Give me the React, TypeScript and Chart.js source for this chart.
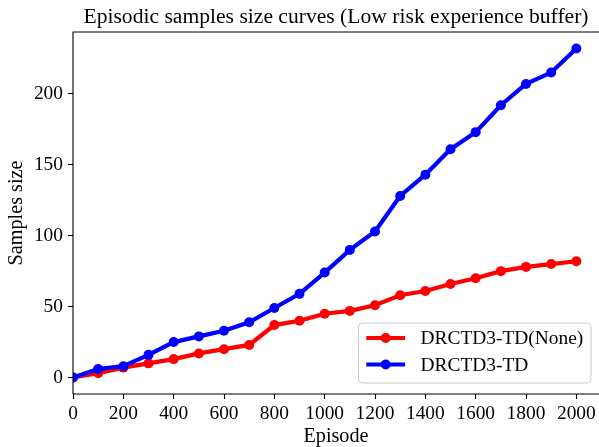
import React, { useEffect, useRef } from "react";
import { Chart, registerables } from "chart.js";

Chart.register(...registerables);

const episodes = [0, 100, 200, 300, 400, 500, 600, 700, 800, 900, 1000, 1100, 1200, 1300, 1400, 1500, 1600, 1700, 1800, 1900, 2000];
const noneSamples = [0, 3, 7, 10, 13, 17, 20, 23, 37, 40, 45, 47, 51, 58, 61, 66, 70, 75, 78, 80, 82];
const tdSamples = [0, 6, 8, 16, 25, 29, 33, 39, 49, 59, 74, 90, 103, 128, 143, 161, 173, 192, 207, 215, 232];
const xTicks = [0, 200, 400, 600, 800, 1000, 1200, 1400, 1600, 1800, 2000];
const yTicks = [0, 50, 100, 150, 200];
const seriesLabels = ["DRCTD3-TD(None)", "DRCTD3-TD"];
const seriesColors = ["#ff0000", "#0000ff"];
const titleText = "Episodic samples size curves (Low risk experience buffer)";
const xLabel = "Episode";
const yLabel = "Samples size";

const FONT = "'Times New Roman', 'Liberation Serif', 'DejaVu Serif', serif";
const FS = 19.4;
const TITLE_FS = 21.6;
const LABEL_FS = 20.2;

const framePlugin = {
  id: "mplFrame",
  afterDatasetsDraw(chart: any) {
    const ctx = chart.ctx;
    const ca = chart.chartArea;
    ctx.save();
    ctx.strokeStyle = "#000000";
    ctx.lineWidth = 1.1;
    ctx.beginPath();
    ctx.moveTo(ca.left, ca.bottom);
    ctx.lineTo(ca.left, ca.top);
    ctx.lineTo(ca.right + 2, ca.top);
    ctx.moveTo(ca.left, ca.bottom);
    ctx.lineTo(ca.right + 2, ca.bottom);
    ctx.stroke();

    // legend
    ctx.font = `${FS}px ${FONT}`;
    const ds = chart.data.datasets;
    const textW = Math.max(...ds.map((d: any) => ctx.measureText(d.label).width));
    const pad = 0.4 * FS;
    const handleLen = 2 * FS;
    const handlePad = 0.8 * FS;
    const w = pad * 2 + handleLen + handlePad + textW;
    const h = 60;
    const right = ca.right - 8;
    const bottom = ca.bottom - 11;
    const x0 = right - w;
    const y0 = bottom - h;
    ctx.beginPath();
    ctx.roundRect(x0, y0, w, h, 4);
    ctx.fillStyle = "rgba(255,255,255,0.8)";
    ctx.fill();
    ctx.strokeStyle = "#cccccc";
    ctx.lineWidth = 1;
    ctx.stroke();
    const rowYs = [y0 + 15, y0 + 41.5];
    ds.forEach((d: any, i: number) => {
      const y = rowYs[i];
      const hx0 = x0 + pad;
      ctx.strokeStyle = d.borderColor;
      ctx.lineWidth = 4.2;
      ctx.lineCap = "butt";
      ctx.beginPath();
      ctx.moveTo(hx0, y);
      ctx.lineTo(hx0 + handleLen, y);
      ctx.stroke();
      ctx.fillStyle = d.borderColor;
      ctx.beginPath();
      ctx.arc(hx0 + handleLen / 2, y, 5, 0, Math.PI * 2);
      ctx.fill();
      ctx.fillStyle = "#000000";
      ctx.textBaseline = "middle";
      ctx.textAlign = "left";
      ctx.fillText(d.label, hx0 + handleLen + handlePad, y + 1);
    });
    ctx.restore();
  },
};

export default function App() {
  const ref = useRef<HTMLCanvasElement>(null);
  useEffect(() => {
    document.body.style.margin = "0";
    document.body.style.overflow = "hidden";
    const canvas = ref.current;
    if (!canvas) return;
    const font = { family: FONT, size: FS };
    const labelFont = { family: FONT, size: LABEL_FS };
    const chart = new Chart(canvas, {
      type: "line",
      data: {
        datasets: [
          {
            label: seriesLabels[0],
            data: episodes.map((e, i) => ({ x: e, y: noneSamples[i] })),
            borderColor: seriesColors[0],
            backgroundColor: seriesColors[0],
            pointBackgroundColor: seriesColors[0],
            pointBorderWidth: 0,
            pointRadius: 5,
            borderWidth: 4.2,
            tension: 0,
            order: 1,
            clip: 0,
          },
          {
            label: seriesLabels[1],
            data: episodes.map((e, i) => ({ x: e, y: tdSamples[i] })),
            borderColor: seriesColors[1],
            backgroundColor: seriesColors[1],
            pointBackgroundColor: seriesColors[1],
            pointBorderWidth: 0,
            pointRadius: 5,
            borderWidth: 4.2,
            tension: 0,
            order: 0,
            clip: 0,
          },
        ],
      },
      options: {
        animation: false,
        responsive: false,
        devicePixelRatio: 1,
        layout: { autoPadding: false, padding: { left: 0, right: 0, top: 0, bottom: 0 } },
        plugins: {
          legend: { display: false },
          tooltip: { enabled: false },
          title: {
            display: true,
            text: titleText,
            color: "#000000",
            fullSize: false,
            font: { family: FONT, size: TITLE_FS, weight: "normal" },
            padding: { top: 4.3, bottom: 1.78 },
          },
        },
        scales: {
          x: {
            type: "linear",
            min: 0,
            max: 2090,
            afterBuildTicks: (s: any) => {
              s.ticks = xTicks.map((v) => ({ value: v }));
            },
            afterFit: (s: any) => {
              s.height = 53;
              s.paddingLeft = 0;
              s.paddingRight = 0;
            },
            grid: {
              display: true,
              drawOnChartArea: false,
              drawTicks: true,
              tickLength: 5,
              tickColor: "#000000",
              tickWidth: 1.1,
            },
            border: { display: false },
            ticks: {
              color: "#000000",
              font,
              padding: 3,
              maxRotation: 0,
              autoSkip: false,
              callback: (v: any) => String(v),
            },
            title: {
              display: true,
              text: xLabel,
              color: "#000000",
              font: labelFont,
              padding: { top: 0, bottom: -1.5 },
            },
          },
          y: {
            type: "linear",
            min: -11.6,
            max: 243.6,
            afterBuildTicks: (s: any) => {
              s.ticks = yTicks.map((v) => ({ value: v }));
            },
            afterFit: (s: any) => {
              s.width = 73;
              s.paddingTop = 0;
              s.paddingBottom = 0;
            },
            grid: {
              display: true,
              drawOnChartArea: false,
              drawTicks: true,
              tickLength: 5,
              tickColor: "#000000",
              tickWidth: 1.1,
            },
            border: { display: false },
            ticks: {
              color: "#000000",
              font,
              padding: 5,
              autoSkip: false,
              callback: (v: any) => String(v),
            },
            title: {
              display: true,
              text: yLabel,
              color: "#000000",
              font: labelFont,
              padding: { top: 4.6, bottom: 0 },
            },
          },
        },
      },
      plugins: [framePlugin],
    } as any);
    return () => chart.destroy();
  }, []);
  return (
    <div style={{ width: 599, height: 447, position: "relative" }}>
      <canvas ref={ref} width={599} height={447} style={{ display: "block" }} />
    </div>
  );
}
